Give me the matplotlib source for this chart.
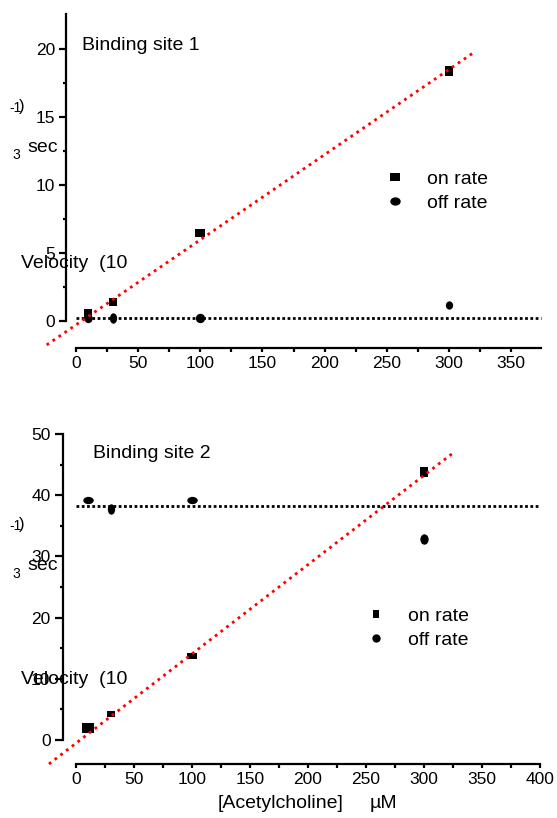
import matplotlib
matplotlib.use("Agg")
import matplotlib.pyplot as plt
from matplotlib.path import Path
from matplotlib.lines import Line2D
from matplotlib.ticker import MultipleLocator, FixedLocator

plt.rcParams['font.family'] = ['Liberation Sans', 'DejaVu Sans']

# acetylcholine concentrations (uM)
conc = [10, 30, 100, 300]

# binding site 1 (velocity, 10^3 s^-1)
on_rate_1 = [0.55, 1.4, 6.45, 18.4]
off_rate_1 = [0.25, 0.25, 0.25, 1.18]
fit_x_1 = [-23.6, 321]
fit_y_1 = [-1.76, 19.8]
off_mean_1 = 0.2

# binding site 2
on_rate_2 = [1.96, 4.2, 13.7, 43.8]
off_rate_2 = [39.2, 37.7, 39.2, 32.8]
fit_x_2 = [-23.3, 324.7]
fit_y_2 = [-3.92, 46.85]
off_mean_2 = 38.2

W, H = 557, 818
fig = plt.figure(figsize=(W / 100, H / 100), dpi=100)


def rect(l, t, r, b):
    return [l / W, 1 - b / H, (r - l) / W, (b - t) / H]


def fxy(x, y):
    return x / W, 1 - y / H


def box(w, h):
    return Path([(-w / 2, -h / 2), (w / 2, -h / 2), (w / 2, h / 2), (-w / 2, h / 2), (-w / 2, -h / 2)],
                closed=True)


def oval(w, h):
    c = Path.unit_circle()
    v = c.vertices.copy()
    v[:, 0] *= w / 2
    v[:, 1] *= h / 2
    return Path(v, c.codes)


def points(ax, xs, ys, shape, sizes):
    for x, y, (w, h) in zip(xs, ys, sizes):
        ax.plot([x], [y], linestyle='none', marker=shape(w, h), markersize=max(w, h) * 0.75,
                color='black', markeredgewidth=0, zorder=4, clip_on=False)


def style_axes(ax, xmax, xstep, ymax, ystep, ylen):
    for s in ('top', 'right'):
        ax.spines[s].set_visible(False)
    for s in ('left', 'bottom'):
        ax.spines[s].set_linewidth(1.6)
    ax.spines['left'].set_bounds(0, ymax)
    ax.spines['bottom'].set_bounds(0, xmax)
    ax.xaxis.set_major_locator(FixedLocator(list(range(0, xmax + 1, xstep))))
    ax.xaxis.set_minor_locator(FixedLocator([v + xstep / 2 for v in range(0, xmax - xstep // 2, xstep)]))
    ax.yaxis.set_major_locator(MultipleLocator(ystep))
    ax.yaxis.set_minor_locator(FixedLocator([v + ystep / 2 for v in range(0, ymax - ystep + 1, ystep)]))
    ax.tick_params(axis='x', which='both', direction='out', length=3, width=1.6, labelsize=12.5, pad=3)
    ax.tick_params(axis='y', which='major', direction='out', length=ylen, width=1.6, labelsize=12.5, pad=3)
    ax.tick_params(axis='y', which='minor', direction='out', length=2.5, width=1.6)


def legend(ax, x, y, sq, ov):
    handles = [Line2D([], [], linestyle='none', marker=box(*sq), markersize=max(sq) * 0.75,
                      color='black', markeredgewidth=0),
               Line2D([], [], linestyle='none', marker=oval(*ov), markersize=max(ov) * 0.75,
                      color='black', markeredgewidth=0)]
    ax.legend(handles, ['on rate', 'off rate'], loc='center left', bbox_to_anchor=fxy(x, y),
              bbox_transform=fig.transFigure, frameon=False, fontsize=14, handlelength=1.0,
              handletextpad=1.15, labelspacing=0.3, borderpad=0, borderaxespad=0, numpoints=1)


def ylabel(y_vel, y_sec, y_three, y_minus):
    fig.text(*fxy(21, y_vel), 'Velocity  (10', fontsize=14, ha='left', va='center')
    fig.text(*fxy(27, y_sec), 'sec', fontsize=14, ha='left', va='center')
    fig.text(*fxy(12, y_three), '3', fontsize=10, ha='left', va='center')
    fig.text(*fxy(9, y_minus + 2), '-1', fontsize=10, ha='left', va='center')
    fig.text(*fxy(19, y_minus), ')', fontsize=12, ha='left', va='center')


def dotted(ax, xs, ys, color, lw, gap, z):
    ax.plot(xs, ys, color=color, lw=lw, linestyle=(0, (1, gap)), dash_capstyle='butt',
            zorder=z, clip_on=False)


# binding site 1
ax1 = fig.add_axes(rect(66, 14.3, 540.7, 348))
ax1.set_xlim(-8.05, 373.9)
ax1.set_ylim(-1.985, 22.55)
style_axes(ax1, 374, 50, 22, 5, 5)
ax1.spines['left'].set_bounds(0, 22.55)
dotted(ax1, [0, 374], [off_mean_1, off_mean_1], 'black', 2.0, 0.9, 2)
points(ax1, conc, on_rate_1, box, [(7, 10), (8, 8), (10, 8), (8, 9)])
points(ax1, conc, off_rate_1, oval, [(8, 9), (7, 10), (9, 9), (7, 8)])
dotted(ax1, fit_x_1, fit_y_1, '#ff0000', 2.0, 1.6, 5)
ax1.text(*fxy(82, 45), 'Binding site 1', transform=fig.transFigure, fontsize=14, ha='left', va='center')
legend(ax1, 385, 191, (10, 8), (10, 8))
ylabel(263, 147, 155, 106)

# binding site 2
ax2 = fig.add_axes(rect(63, 434, 540, 764))
ax2.set_xlim(-11.2, 400)
ax2.set_ylim(-3.92, 50)
style_axes(ax2, 400, 50, 50, 10, 6)
dotted(ax2, [0, 400], [off_mean_2, off_mean_2], 'black', 2.0, 0.9, 2)
points(ax2, conc, on_rate_2, box, [(11, 10), (7, 5), (9, 5), (8, 10)])
points(ax2, conc, off_rate_2, oval, [(10, 7), (7, 10), (10, 7), (8, 10)])
dotted(ax2, fit_x_2, fit_y_2, '#ff0000', 2.0, 1.6, 5)
ax2.text(*fxy(93, 453), 'Binding site 2', transform=fig.transFigure, fontsize=14, ha='left', va='center')
legend(ax2, 366, 628, (6, 8), (8, 8))
ylabel(680, 565, 574, 524)

fig.text(*fxy(218, 803), '[Acetylcholine]', fontsize=14, ha='left', va='center')
fig.text(*fxy(370, 803), 'µM', fontsize=14, ha='left', va='center')

fig.savefig('out.png', dpi=100)
